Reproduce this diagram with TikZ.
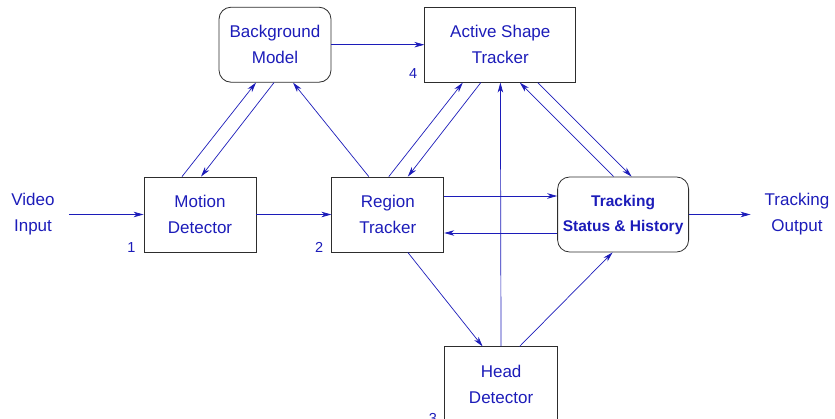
\documentclass[tikz,border=0pt]{standalone}
\usepackage{fontspec}
\setmainfont{Liberation Sans}
\usepackage{xcolor}
\usepackage{tikz}
\usetikzlibrary{positioning,arrows.meta}
\definecolor{c_line}{RGB}{28,28,185}
\definecolor{c_edge}{RGB}{45,45,45}
\tikzset{c-box/.style={rectangle, minimum width=112pt, minimum height=75pt, text centered, align=center, draw=c_edge, line width=0.8pt, text=c_line, font=\fontsize{17}{26}\selectfont},
c-rbox/.style={c-box, rounded corners=12pt},
c-io/.style={text=c_line, align=center, inner xsep=14pt, font=\fontsize{17}{26}\selectfont},
c-num/.style={text=c_line, inner sep=0pt, font=\fontsize{14.5}{16}\selectfont},
arrow/.style={c_line, line width=0.7pt, -{Stealth[length=10pt,width=5.5pt,inset=3pt]}}}

\begin{document}
\begin{tikzpicture}[x=1pt, y=-1pt]
\useasboundingbox (0,0) rectangle (835,418);
\node (n0) [c-box] at (200,214.5) {Motion\\Detector};
\node (n1) [c-box, right=75pt of n0] {Region\\Tracker};
\node (n2) [c-rbox, right=113pt of n1, minimum width=131pt, font=\bfseries\fontsize{15.5}{25}\selectfont] {Tracking\\Status \& History};
\node (n3) [c-rbox, above=94pt of n0, xshift=75pt] {Background\\Model};
\node (n4) [c-box, right=93pt of n3, minimum width=151pt] {Active Shape\\Tracker};
\node (n5) [c-box, below right=94pt and 0pt of n1, minimum width=113pt] {Head\\Detector};
\node (n6) [c-io] at (33,214.5) {Video\\Input};
\node (n7) [c-io] at (797,214.5) {Tracking\\Output};
% stage numbers
\node (m1) [c-num, anchor=base east] at ([xshift=-8pt]n0.south west) {1};
\node (m2) [c-num, anchor=base east] at ([xshift=-8pt]n1.south west) {2};
\node (m3) [c-num, anchor=base east] at ([xshift=-7pt,yshift=-1pt]n5.south west) {3};
\node (m4) [c-num, anchor=base east] at ([xshift=-7pt,yshift=4pt]n4.south west) {4};
% flow
\draw [arrow] (n6) -- (n0);
\draw [arrow] (n0) -- (n1);
\draw [arrow] ([yshift=18.5pt]n1.east) -- ([yshift=18.5pt]n2.west);
\draw [arrow] ([yshift=-18.5pt]n2.west) -- ([yshift=-18.5pt]n1.east);
\draw [arrow] (n2) -- (n7);
\draw [arrow] (n3) -- (n4);
\draw [arrow] ([xshift=-18pt]n0.north) -- ([xshift=-19pt]n3.south);
\draw [arrow] ([xshift=-1pt]n3.south) -- ([xshift=1pt]n0.north);
\draw [arrow] ([xshift=-19pt]n1.north) -- ([xshift=18pt]n3.south);
\draw [arrow] ([xshift=1pt]n1.north) -- ([xshift=-37.5pt]n4.south);
\draw [arrow] ([xshift=-19.5pt]n4.south) -- ([xshift=20pt]n1.north);
\draw [arrow] ([xshift=-9.5pt]n2.north) -- ([xshift=19.5pt]n4.south);
\draw [arrow] ([xshift=37.5pt]n4.south) -- ([xshift=8.5pt]n2.north);
\draw [arrow] (n5) -- (n4);
\draw [arrow] ([xshift=20pt]n1.south) -- ([xshift=-18.5pt]n5.north);
\draw [arrow] ([xshift=18.5pt]n5.north) -- ([xshift=-10.5pt]n2.south);
\end{tikzpicture}
\end{document}
